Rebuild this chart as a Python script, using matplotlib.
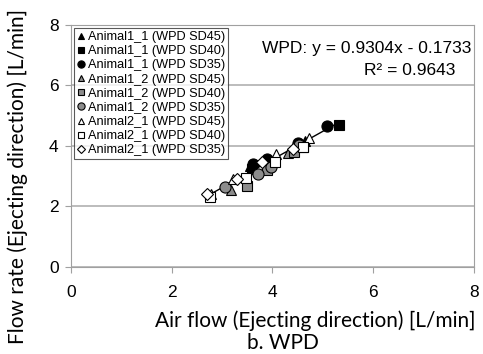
import matplotlib.pyplot as plt
import numpy as np

plt.rcParams['font.family'] = ['Liberation Sans', 'DejaVu Sans']

labels = ["Animal1_1 (WPD SD45)", "Animal1_1 (WPD SD40)", "Animal1_1 (WPD SD35)",
          "Animal1_2 (WPD SD45)", "Animal1_2 (WPD SD40)", "Animal1_2 (WPD SD35)",
          "Animal2_1 (WPD SD45)", "Animal2_1 (WPD SD40)", "Animal2_1 (WPD SD35)"]

x_a11_45 = [3.55, 4.65]
y_a11_45 = [3.35, 4.15]
x_a11_40 = [3.60, 4.60, 5.32]
y_a11_40 = [3.25, 3.95, 4.68]
x_a11_35 = [3.62, 3.90, 4.50, 5.08]
y_a11_35 = [3.40, 3.55, 4.10, 4.65]
x_a12_45 = [3.17, 4.30]
y_a12_45 = [2.55, 3.77]
x_a12_40 = [3.49, 3.90, 4.42]
y_a12_40 = [2.68, 3.20, 3.80]
x_a12_35 = [3.05, 3.72, 3.98, 4.52]
y_a12_35 = [2.65, 3.08, 3.30, 4.02]
x_a21_45 = [2.78, 3.22, 4.08, 4.72]
y_a21_45 = [2.42, 2.90, 3.72, 4.25]
x_a21_40 = [2.77, 3.48, 4.05, 4.60]
y_a21_40 = [2.30, 2.95, 3.47, 3.95]
x_a21_35 = [2.70, 3.30, 3.80, 4.40]
y_a21_35 = [2.40, 2.92, 3.48, 3.90]

slope = 0.9304
intercept = -0.1733
fit_x = [2.72, 5.32]

series = [(x_a11_45, y_a11_45), (x_a11_40, y_a11_40), (x_a11_35, y_a11_35),
          (x_a12_45, y_a12_45), (x_a12_40, y_a12_40), (x_a12_35, y_a12_35),
          (x_a21_45, y_a21_45), (x_a21_40, y_a21_40), (x_a21_35, y_a21_35)]
markers = ["^", "s", "o", "^", "s", "o", "^", "s", "D"]
fills = ["black", "black", "black", "#8c8c8c", "#8c8c8c", "#8c8c8c", "white", "white", "white"]
sizes = [7.5, 7.5, 8, 7.5, 7.5, 8, 7.5, 7.5, 6]

fig = plt.figure(figsize=(4.83, 3.54), dpi=100)
ax = fig.add_axes([0.147, 0.246, 0.834, 0.684])

fx = np.array(fit_x)
ax.plot(fx, slope * fx + intercept, color="black", lw=1, zorder=1)

for (xs, ys), m, fc, s, lab in zip(series, markers, fills, sizes, labels):
    ax.plot(xs, ys, linestyle="none", marker=m, markerfacecolor=fc,
            markeredgecolor="black", markeredgewidth=0.8, markersize=s,
            label=lab, zorder=3)

ax.set_xlim(0, 8)
ax.set_ylim(0, 8)
ax.set_xticks([0, 2, 4, 6, 8])
ax.set_yticks([0, 2, 4, 6, 8])
ax.yaxis.grid(True, color="#b0b0b0", lw=1.2)
ax.set_axisbelow(True)
for sp in ax.spines.values():
    sp.set_color("#a0a0a0")
ax.tick_params(axis="both", labelsize=12.5, color="#a0a0a0", length=4, direction="out")
ax.tick_params(axis="x", pad=9)
ax.tick_params(axis="y", pad=5)

leg = ax.legend(loc="upper left", bbox_to_anchor=(0.005, 0.99), fontsize=9.2,
                frameon=True, fancybox=False, borderpad=0.2, labelspacing=0.17,
                handlelength=0.6, handletextpad=0.3, borderaxespad=0.1,
                markerscale=0.65)
leg.get_frame().set_edgecolor("#303030")
leg.get_frame().set_linewidth(0.8)

ax.text(0.995, 0.9, "WPD: y = 0.9304x - 0.1733", transform=ax.transAxes,
        ha="right", va="center", fontsize=12.5)
ax.text(0.955, 0.81, "R\u00b2 = 0.9643", transform=ax.transAxes,
        ha="right", va="center", fontsize=12.5)

fig.text(0.652, 0.095, "Air flow (Ejecting direction) [L/min]", ha="center",
         va="center", fontsize=15, family=["Lato", "DejaVu Sans"])
fig.text(0.036, 0.50, "Flow rate (Ejecting direction) [L/min]", ha="center",
         va="center", rotation=90, fontsize=15, family=["Lato", "DejaVu Sans"])
fig.text(0.585, 0.032, "b. WPD", ha="center", va="center", fontsize=15,
         family=["Lato", "DejaVu Sans"])

fig.savefig("out.png", dpi=100)
